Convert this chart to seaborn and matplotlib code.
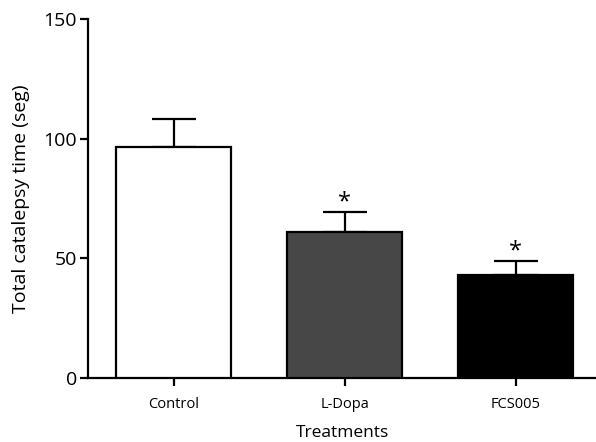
import pandas as pd
import numpy as np
import seaborn as sns
import matplotlib.pyplot as plt

# Values
treatments = ['Control', 'L-Dopa', 'FCS005']
mean_time = [96.5, 61.1, 43.0]
sem_time = [11.7, 8.1, 5.8]
significant = [False, True, True]
bar_colors = ['#ffffff', '#474747', '#000000']

df = pd.DataFrame({'Treatment': treatments, 'Time': mean_time})

sns.set_style('ticks')
plt.rcParams['font.family'] = ['Open Sans', 'DejaVu Sans']
plt.rcParams['text.color'] = 'black'
plt.rcParams['axes.labelcolor'] = 'black'
plt.rcParams['xtick.color'] = 'black'
plt.rcParams['ytick.color'] = 'black'

fig = plt.figure(figsize=(5.96, 4.42), dpi=100)
ax = fig.add_axes([0.148, 0.145, 0.852, 0.812])

sns.barplot(data=df, x='Treatment', y='Time', hue='Treatment',
            palette=bar_colors, order=treatments, errorbar=None,
            width=0.67, edgecolor='black', linewidth=1.6,
            legend=False, ax=ax, zorder=3)

# upper-only error bars (mean + SEM)
x_pos = np.arange(len(treatments))
ax.errorbar(x_pos, mean_time, yerr=[np.zeros(len(sem_time)), sem_time],
            fmt='none', ecolor='black', elinewidth=1.6, capsize=16,
            capthick=1.6, zorder=2)

# significance asterisks
for i, (m, s, sig) in enumerate(zip(mean_time, sem_time, significant)):
    if sig:
        ax.text(i, m + s + 1.5, '*', ha='center', va='baseline',
                fontsize=17, color='black')

ax.set_ylim(0, 150)
ax.set_xlim(-0.5, 2.47)
ax.set_yticks([0, 50, 100, 150])
ax.tick_params(axis='y', labelsize=14, width=1.6, length=6, pad=2)
ax.tick_params(axis='x', labelsize=10.5, width=1.6, length=6, pad=8)
ax.set_ylabel('Total catalepsy time (seg)', fontsize=14, labelpad=10)
ax.set_xlabel('Treatments', fontsize=12.5, labelpad=9)

sns.despine(ax=ax)
for side in ['left', 'bottom']:
    ax.spines[side].set_linewidth(1.6)
    ax.spines[side].set_color('black')

fig.savefig('out.png', dpi=100)
